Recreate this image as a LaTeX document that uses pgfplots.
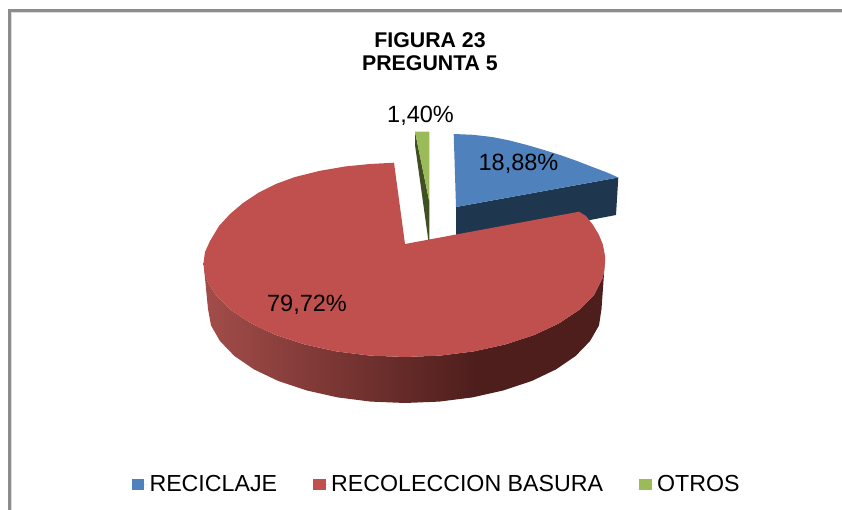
\documentclass[border=0pt]{standalone}
\usepackage{fontspec}
\setmainfont{Liberation Sans}
\usepackage{pgfplots}
\pgfplotsset{compat=1.18}
\definecolor{bluetop}{HTML}{4F81BD}
\definecolor{blueside}{HTML}{1F364F}
\definecolor{redtop}{HTML}{C0504D}
\definecolor{greentop}{HTML}{9BBB59}
\definecolor{greenside}{HTML}{414F24}
\definecolor{redsideA}{HTML}{A34D4A}
\definecolor{redsideB}{HTML}{4E1E1C}
\definecolor{frameA}{HTML}{8C8C8C}
\definecolor{frameB}{HTML}{DADADA}
\pgfdeclarehorizontalshading{redside}{100bp}{color(0bp)=(redsideA); color(25bp)=(redsideA); color(59bp)=(redsideB); color(100bp)=(redsideB)}
\begin{document}
\begin{tikzpicture}
\path[use as bounding box] (0,0) rectangle (842pt,510pt);
\begin{axis}[
  at={(0,0)}, anchor=south west,
  scale only axis, width=842pt, height=510pt,
  xmin=0, xmax=842, ymin=0, ymax=510, y dir=reverse,
  hide axis,
  title={FIGURA 23\\PREGUNTA 5},
  title style={at={(0.5107,0.886)}, anchor=center, align=center, inner sep=0pt,
    font=\bfseries\fontsize{21.3}{23}\selectfont},
  legend columns=3,
  legend cell align=left,
  legend style={at={(axis cs:131.5,484)}, anchor=west, draw=none, fill=none,
    inner sep=0pt, outer sep=0pt,
    font=\fontsize{23.2}{26}\selectfont,
    /tikz/every even column/.style={column sep=34pt}},
  legend image code/.code={\fill[#1] (0pt,-5.5pt) rectangle (12.5pt,5.5pt); \path (0pt,0pt) -- (16pt,0pt);},
]
% frame
\addplot[frameB, line width=1pt, forget plot] coordinates {(11.5,510)(11.5,12.5)(842,12.5)};
\addplot[frameA, line width=2.6pt, forget plot] coordinates {(9.3,510)(9.3,10.3)(842,10.3)};
% RECICLAJE side
\addplot[blueside, fill=blueside, draw=none, forget plot] coordinates {
  (456,207)(618.3,177.5)(616,215)(590,220)(560,226)(456,240)};
% RECICLAJE top
\addplot[fill=bluetop, draw=none] coordinates {
  (456,207)(453.7,134)(473,134.8)(492,137)(510,140.6)(527,145)(544,150)
  (561,155.3)(577,161)(593,167.2)(607,172.5)(618.3,177.5)};
\addlegendentry{RECICLAJE}
% RECOLECCION BASURA side
\addplot[shading=redside, draw=none, forget plot] coordinates {
  (203.5,263)(207,281)(216,295.1)(231,310)(251,323.4)(275.8,335)(304.5,344.4)
  (336.3,351.4)(370,355.6)(405,357)(440,355.6)(473.7,351.4)(505.5,344.4)
  (534.2,335)(559,323.4)(579,310)(594,295.1)(603,277)(605,260)
  (601.5,309)(599,325.4)(590,341.1)(575.6,356)(556,369.4)(531.7,381)
  (503.5,390.4)(472.4,397.4)(439.3,401.6)(405,403)(370.7,401.6)(337.6,397.4)
  (306.5,390.4)(278.3,381)(254,369.4)(234.4,356)(220,341.1)(211,325.4)(208,309)};
% RECOLECCION BASURA top
\addplot[fill=redtop, draw=none] coordinates {
  (405,244)(394,162.7)(370,164)(345,166.5)(320,170.8)(295,177)(275.8,184)
  (258,193)(243,203)(230,214)(219,226)(210,241)(205,252)(203.5,263)
  (204.5,272)(207,281)(216,295.1)(231,310)(251,323.4)(275.8,335)(304.5,344.4)
  (336.3,351.4)(370,355.6)(405,357)(440,355.6)(473.7,351.4)(505.5,344.4)
  (534.2,335)(559,323.4)(579,310)(594,295.1)(603,277)(605,263)(605,256)
  (603,245)(599,235)(593,225)(586,216)(579,211.7)};
\addlegendentry{RECOLECCION BASURA}
% OTROS side
\addplot[fill=greenside, draw=none, forget plot] coordinates {
  (415,131.7)(429.3,201.7)(429.3,240)(428.3,240)(415,145)};
% OTROS top
\addplot[fill=greentop, draw=none] coordinates {
  (415,131.7)(429.3,131.7)(429.3,201.7)};
\addlegendentry{OTROS}
% data labels
\node[anchor=base, inner sep=0pt, font=\fontsize{23.5}{26}\selectfont] at (axis cs:420.5,123) {1,40\%};
\node[anchor=base, inner sep=0pt, font=\fontsize{23.5}{26}\selectfont] at (axis cs:518.5,171) {18,88\%};
\node[anchor=base, inner sep=0pt, font=\fontsize{23.5}{26}\selectfont] at (axis cs:307,311) {79,72\%};
\end{axis}
\end{tikzpicture}
\end{document}
